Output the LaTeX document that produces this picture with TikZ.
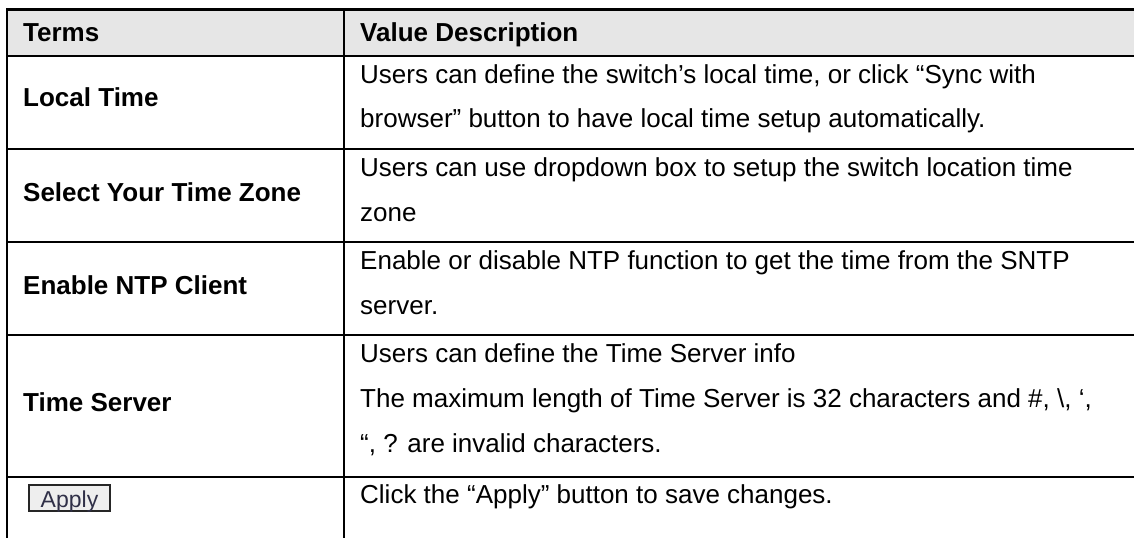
\documentclass[tikz,border=0pt]{standalone}
\usepackage{fontspec}
\setmainfont{Liberation Sans}
\definecolor{hdr}{HTML}{E6E6E6}
\definecolor{btnfill}{HTML}{EEEEEE}
\definecolor{btntext}{HTML}{303048}
\begin{document}
\begin{tikzpicture}[x=1pt,y=-1pt,
  term/.style={anchor=base west, inner sep=0pt, font=\fontsize{26}{30}\selectfont\bfseries},
  desc/.style={anchor=base west, inner sep=0pt, font=\fontsize{26}{30}\selectfont},
  hrule/.style={line width=2.4pt},
  vrule/.style={line width=2.2pt},
  btnbox/.style={draw=black!85, line width=1.8pt, fill=btnfill},
  btnlabel/.style={anchor=base, inner sep=0pt, text=btntext, font=\fontsize{23}{26}\selectfont}]
\useasboundingbox (0,0) rectangle (1134,538);
\fill[white] (0,0) rectangle (1134,538);
% header background
\fill[hdr] (7,9) rectangle (1134,56);
% horizontal rules
\draw[hrule,line width=3pt] (6,9) -- (1134,9);
\draw[hrule] (6,56) -- (1134,56);
\draw[hrule] (6,149) -- (1134,149);
\draw[hrule] (6,242) -- (1134,242);
\draw[hrule] (6,335) -- (1134,335);
\draw[hrule] (6,477) -- (1134,477);
% vertical rules
\draw[vrule] (7,8) -- (7,538);
\draw[vrule] (344,8) -- (344,538);
% header
\node[term] (h1) at (23,41) {Terms};
\node[term] (h2) at (360,41) {Value Description};
% terms
\node[term] (t1) at (23,106) {Local Time};
\node[term] (t2) at (23,201) {Select Your Time Zone};
\node[term] (t3) at (23,294) {Enable NTP Client};
\node[term] (t4) at (23,411) {Time Server};
\draw[btnbox] (29,485) rectangle (110,511);
\node[btnlabel] (t5) at (69.5,507.5) {Apply};
% descriptions
\node[desc] (d1a) at (360,83) {Users can define the switch’s local time, or click “Sync with};
\node[desc] (d1b) at (360,127) {browser” button to have local time setup automatically.};
\node[desc] (d2a) at (360,176) {Users can use dropdown box to setup the switch location time};
\node[desc] (d2b) at (360,221) {zone};
\node[desc] (d3a) at (360,269) {Enable or disable NTP function to get the time from the SNTP};
\node[desc] (d3b) at (360,314) {server.};
\node[desc] (d4a) at (360,362) {Users can define the Time Server info};
\node[desc] (d4b) at (360,407) {The maximum length of Time Server is 32 characters and \#, \textbackslash, ‘,};
\node[desc] (d4c) at (360,452) {“, ? are invalid characters.};
\node[desc] (d5a) at (360,503) {Click the “Apply” button to save changes.};
\end{tikzpicture}
\end{document}
